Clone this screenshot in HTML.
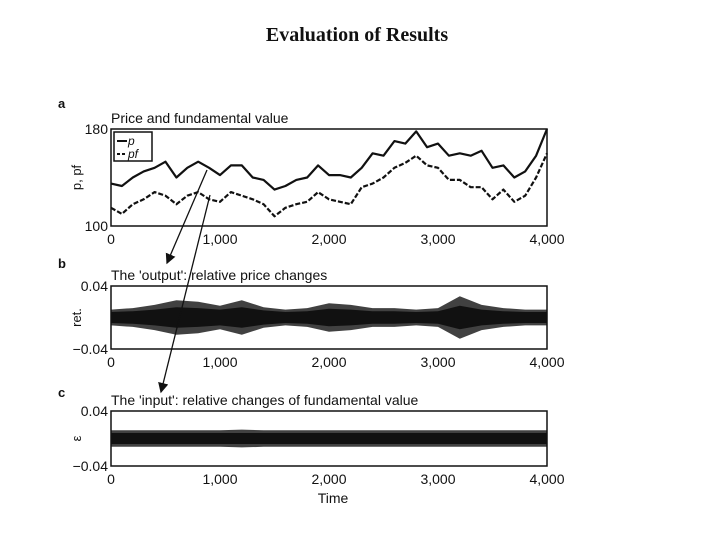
<!DOCTYPE html>
<html><head><meta charset="utf-8"><style>
body{margin:0;background:#fff;width:720px;height:540px;overflow:hidden}
svg text{font-family:"Liberation Sans",sans-serif;fill:#111}
</style></head><body>
<svg id="c" width="720" height="540">
<text x="357" y="41" text-anchor="middle" style="font-family:'Liberation Serif',serif;font-weight:bold;font-size:20px">Evaluation of Results</text>
</svg>
<script>
const steps=[0,100,200,300,400,500,600,700,800,900,1000,1100,1200,1300,1400,1500,1600,1700,1800,1900,2000,2100,2200,2300,2400,2500,2600,2700,2800,2900,3000,3100,3200,3300,3400,3500,3600,3700,3800,3900,4000];
const priceP=[135,133,140,145,148,153,140,148,153,148,142,150,150,140,138,130,133,138,140,150,142,142,140,148,160,158,170,168,178,165,168,158,160,158,162,148,150,140,145,158,180];
const priceF=[115,110,118,122,128,125,118,125,128,122,120,128,125,122,118,108,115,118,120,128,122,120,118,132,135,140,148,152,158,150,148,138,138,132,132,122,130,120,125,140,160];
const envSteps=[0,200,400,600,800,1000,1200,1400,1600,1800,2000,2200,2400,2600,2800,3000,3200,3400,3600,3800,4000];
const retEnv=[0.010,0.012,0.016,0.022,0.020,0.015,0.022,0.013,0.010,0.012,0.018,0.016,0.012,0.012,0.010,0.012,0.027,0.016,0.012,0.010,0.010];
const retCore=[0.007,0.008,0.010,0.013,0.012,0.010,0.013,0.009,0.007,0.008,0.011,0.010,0.008,0.008,0.007,0.008,0.015,0.010,0.008,0.007,0.007];
const epsEnv=[0.012,0.012,0.012,0.012,0.012,0.012,0.013,0.012,0.012,0.012,0.012,0.012,0.012,0.012,0.012,0.012,0.012,0.012,0.012,0.012,0.012];
const epsCore=[0.008,0.008,0.008,0.008,0.008,0.008,0.008,0.008,0.008,0.008,0.008,0.008,0.008,0.008,0.008,0.008,0.008,0.008,0.008,0.008,0.008];
const xTicks=[0,1000,2000,3000,4000];
const xTickLabels=["0","1,000","2,000","3,000","4,000"];

const svg=document.getElementById('c');const NS='http://www.w3.org/2000/svg';
function mk(t,a,p){const e=document.createElementNS(NS,t);for(const k in a)e.setAttribute(k,a[k]);(p||svg).appendChild(e);return e;}
function txt(x,y,s,sz,anchor,p){const e=mk('text',{x:x,y:y,'font-size':sz,'text-anchor':anchor||'start'},p);e.textContent=s;return e;}
const X0=111,X1=547;const xs=v=>X0+(v/4000)*(X1-X0);

function panel(name,top,bot,ymin,ymax,yLabels,yTitle,title,letter,ly){
  const g=mk('g',{});
  const ys=v=>bot-(v-ymin)/(ymax-ymin)*(bot-top);
  const f=mk('rect',{x:X0,y:top,width:X1-X0,height:bot-top,fill:'none',stroke:'#111','stroke-width':1.5},g);
  
  xTicks.forEach((t,i)=>{const l=txt(xs(t),bot+18,xTickLabels[i],14,'middle',g);});
  [ymin,ymax].forEach((v,i)=>{const l=txt(X0-3,ys(v)+5,yLabels[i],14,'end',g);});
  const yt=txt(0,0,yTitle,13,'middle',g);yt.setAttribute('transform','translate('+(X0-30)+','+((top+bot)/2)+') rotate(-90)');
  
  const tt=txt(X0,top-6,title,14,'start',g);
  const lt=txt(58,ly,letter,13,'start',g);lt.setAttribute('font-weight','bold');
  return {g,ys};
}
function line(g,xsArr,vals,ys,dash,nm){
  const d=vals.map((v,i)=>(i?'L':'M')+xs(xsArr[i]).toFixed(1)+' '+ys(v).toFixed(1)).join(' ');
  const p=mk('path',{d:d,fill:'none',stroke:'#111','stroke-width':2.2,'stroke-dasharray':dash||'none','stroke-linejoin':'round'},g);
  
}
function band(g,env,ys,op,nm){
  let d='M'+env.map((v,i)=>xs(envSteps[i]).toFixed(1)+' '+ys(v).toFixed(1)).join(' L');
  d+=' L'+env.slice().reverse().map((v,i)=>xs(envSteps[env.length-1-i]).toFixed(1)+' '+ys(-v).toFixed(1)).join(' L')+'Z';
  const p=mk('path',{d:d,fill:'#111','fill-opacity':op},g);
  
}
// Panel a
const A=panel('panel-price',129,226,100,180,['100','180'],'p, pf','Price and fundamental value','a',108);
line(A.g,steps,priceP,A.ys,null,'price-line');
line(A.g,steps,priceF,A.ys,'5 2','fundamental-line');
const lg=mk('g',{},A.g);
mk('rect',{x:114,y:132,width:38,height:29,fill:'#fff',stroke:'#111','stroke-width':1.5},lg);
mk('line',{x1:117,y1:141,x2:127,y2:141,stroke:'#111','stroke-width':2},lg);
txt(128,145,'p',12,'start',lg).setAttribute('font-style','italic');
mk('line',{x1:117,y1:154,x2:127,y2:154,stroke:'#111','stroke-width':2,'stroke-dasharray':'3 2'},lg);
txt(128,158,'pf',12,'start',lg).setAttribute('font-style','italic');
// Panel b
const B=panel('panel-returns',286,349,-0.04,0.04,['−0.04','0.04'],'ret.',"The 'output': relative price changes",'b',268);
band(B.g,retEnv,B.ys,0.8,'returns-envelope');
band(B.g,retCore,B.ys,1,'returns-core');
// Panel c
const C=panel('panel-input',411,466,-0.04,0.04,['−0.04','0.04'],'ε',"The 'input': relative changes of fundamental value",'c',397);
band(C.g,epsEnv,C.ys,0.8,'input-envelope');
band(C.g,epsCore,C.ys,1,'input-core');
const tl=txt(333,503,'Time',14,'middle');
// arrows
const defs=mk('defs',{});const m=mk('marker',{id:'ah',markerWidth:8,markerHeight:8,refX:7,refY:4,orient:'auto'},defs);
mk('path',{d:'M0 0 L8 4 L0 8 Z',fill:'#111'},m);
const a1=mk('line',{x1:207,y1:170,x2:167,y2:263,stroke:'#111','stroke-width':1.3,'marker-end':'url(#ah)'});

const a2=mk('line',{x1:210,y1:195,x2:161,y2:392,stroke:'#111','stroke-width':1.3,'marker-end':'url(#ah)'});

</script>
</body></html>
